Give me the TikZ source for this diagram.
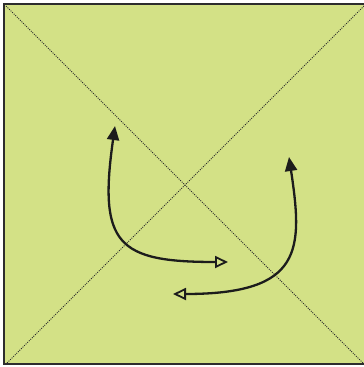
\documentclass[tikz,border=0pt]{standalone}
\usetikzlibrary{arrows.meta}
\definecolor{bg}{RGB}{211,225,134}
\definecolor{edge}{RGB}{45,45,45}
\definecolor{ink}{RGB}{28,28,28}
\tikzset{
  diag/.style={draw=edge, line width=0.9pt, dash pattern=on 1pt off 1.2pt},
  turn/.style={draw=ink, line width=2.3pt,
    {Triangle[length=14pt,width=12pt]}-{Triangle[open,length=13pt,width=12pt,line width=1.8pt]}}
}
\begin{document}
\begin{tikzpicture}[x=1pt,y=-1pt]
\useasboundingbox (0,0) rectangle (364,367);
\fill[white] (0,0) rectangle (364,367);
\fill[bg] (4,4) rectangle (368,364);
\draw[edge, line width=2.6pt] (370,4) -- (4,4) -- (4,364) -- (370,364);
\coordinate (tl) at (6,6);
\coordinate (br) at (364,364);
\coordinate (tr) at (364,6);
\coordinate (bl) at (6,364);
\draw[diag] (tl) -- (br);
\draw[diag] (tr) -- (bl);
\coordinate (a1) at (115,126);
\coordinate (b1) at (228,262);
\coordinate (a2) at (289,157);
\coordinate (b2) at (173,294);
\draw[turn] (a1) .. controls (98,245) and (118,262) .. (b1);
\draw[turn] (a2) .. controls (303,250) and (303,294) .. (b2);
\end{tikzpicture}
\end{document}
